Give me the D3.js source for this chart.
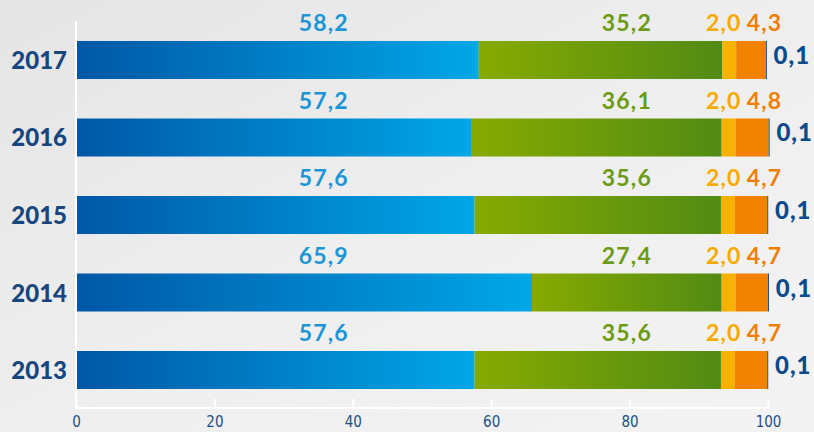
<!DOCTYPE html>
<html>
<head>
<meta charset="utf-8">
<script src="https://cdn.jsdelivr.net/npm/d3@7"></script>
<style>
  html, body { margin: 0; padding: 0; background: #ededed; }
  svg { display: block; }
</style>
</head>
<body>
<svg id="chart" width="814" height="432"></svg>
<script>
// ---- data ----
const years = ["2017", "2016", "2015", "2014", "2013"];
const seriesBlue   = [58.2, 57.2, 57.6, 65.9, 57.6];
const seriesGreen  = [35.2, 36.1, 35.6, 27.4, 35.6];
const seriesYellow = [2.0, 2.0, 2.0, 2.0, 2.0];
const seriesOrange = [4.3, 4.8, 4.7, 4.7, 4.7];
const seriesNavy   = [0.1, 0.1, 0.1, 0.1, 0.1];
const tickValues = [0, 20, 40, 60, 80, 100];

const fmt = v => d3.format(".1f")(v).replace(".", ",");

const svg = d3.select("#chart");
const W = 814, H = 432;

// background
const defs = svg.append("defs");
const bg = defs.append("linearGradient").attr("id", "bg").attr("x1", 0).attr("y1", 0).attr("x2", 1).attr("y2", 1);
bg.append("stop").attr("offset", "0%").attr("stop-color", "#e5e5e5");
bg.append("stop").attr("offset", "55%").attr("stop-color", "#efefef");
bg.append("stop").attr("offset", "100%").attr("stop-color", "#f3f3f3");
svg.append("rect").attr("width", W).attr("height", H).attr("fill", "url(#bg)");

function grad(id, c1, c2) {
  const g = defs.append("linearGradient").attr("id", id).attr("x1", 0).attr("y1", 0).attr("x2", 1).attr("y2", 0);
  g.append("stop").attr("offset", "0%").attr("stop-color", c1);
  g.append("stop").attr("offset", "100%").attr("stop-color", c2);
}
grad("gBlue", "#0057a6", "#00a7e7");
grad("gGreen", "#86aa00", "#528b14");

// label anchors are layout positions (in axis units), not data
const series = [
  { key: "blue",   values: seriesBlue,   fill: "url(#gBlue)",  label: "#1a95d6", anchor: 35.8 },
  { key: "green",  values: seriesGreen,  fill: "url(#gGreen)", label: "#6b9b12", anchor: 79.6 },
  { key: "yellow", values: seriesYellow, fill: "#f7b100",      label: "#f7aa00", anchor: 93.6 },
  { key: "orange", values: seriesOrange, fill: "#f08200",      label: "#ef7f00", anchor: 99.5 },
  { key: "navy",   values: seriesNavy,   fill: "#0d3f78",      label: "#0d4a8a", anchor: null }
];

const x = d3.scaleLinear().domain([0, 100]).range([76, 768]);
const y = d3.scaleBand().domain(years).range([2.25, 427.75]).paddingInner(0.5097).paddingOuter(0.5);
const barH = y.bandwidth();

// bars
years.forEach((yr, i) => {
  const top = y(yr);
  let acc = 0;
  series.forEach(s => {
    const v = s.values[i];
    svg.append("rect")
      .attr("x", x(acc))
      .attr("y", top)
      .attr("width", Math.max(x(acc + v) - x(acc), 0.9))
      .attr("height", barH)
      .attr("fill", s.fill);
    acc += v;
  });
  // value labels above
  series.slice(0, 4).forEach(s => {
    svg.append("text")
      .attr("x", x(s.anchor))
      .attr("y", top - 10)
      .attr("text-anchor", "middle")
      .attr("font-family", "Lato, sans-serif")
      .attr("font-weight", 700)
      .attr("font-size", 23)
      .attr("letter-spacing", 1.2)
      .attr("fill", s.label)
      .text(fmt(s.values[i]));
  });
  // small value to the right
  svg.append("text")
    .attr("x", x(acc) + 7)
    .attr("y", top + barH / 2 + 4)
    .attr("font-family", "Lato, sans-serif")
    .attr("font-weight", 900)
    .attr("font-size", 24)
    .attr("letter-spacing", 1)
    .attr("fill", series[4].label)
    .text(fmt(seriesNavy[i]));
  // year label
  svg.append("text")
    .attr("x", 67)
    .attr("y", top + barH / 2 + 9)
    .attr("text-anchor", "end")
    .attr("font-family", "Lato, sans-serif")
    .attr("font-weight", 900)
    .attr("font-size", 24)
    .attr("fill", "#17467f")
    .text(yr);
});

// axes (white lines)
svg.append("line").attr("x1", x(0)).attr("x2", x(0)).attr("y1", 21).attr("y2", 409)
  .attr("stroke", "#ffffff").attr("stroke-width", 2);
const axisG = svg.append("g").attr("transform", "translate(0,408)")
  .call(d3.axisBottom(x).tickValues(tickValues).tickSize(-9).tickPadding(8).tickFormat(d3.format("d")));
axisG.select(".domain").attr("stroke", "#ffffff").attr("stroke-width", 2).attr("d", `M${x(0)},0H${x(100)}`);
axisG.selectAll(".tick line").attr("stroke", "#ffffff").attr("stroke-width", 2);
axisG.selectAll(".tick text")
  .attr("fill", "#1d4f86")
  .attr("font-family", "'Liberation Sans Narrow', 'DejaVu Sans Condensed', sans-serif")
  .attr("font-stretch", "condensed")
  .attr("font-size", 15)
  .attr("dy", "0.71em");
</script>
</body>
</html>
